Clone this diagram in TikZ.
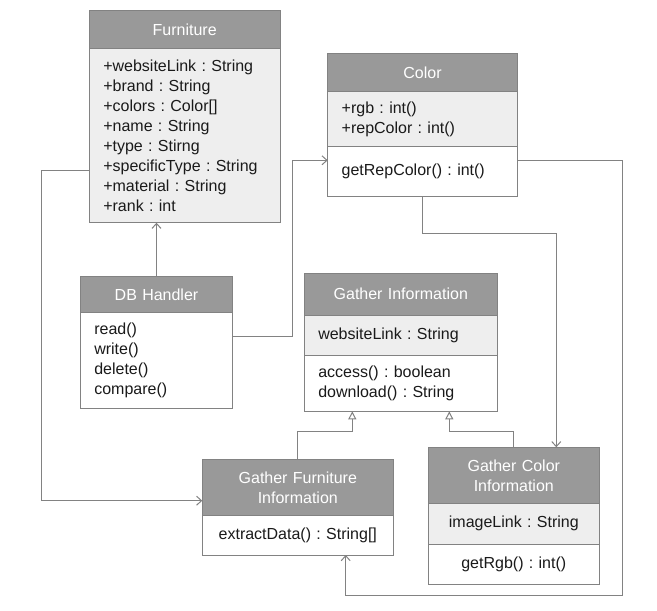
\documentclass[tikz,border=0pt]{standalone}
\usepackage{fontspec}
\setmainfont{Liberation Sans}
\usetikzlibrary{positioning,arrows.meta}
\frenchspacing

\definecolor{headgray}{HTML}{999999}
\definecolor{attrgray}{HTML}{EEEEEE}
\definecolor{linegray}{HTML}{828282}
\definecolor{textdark}{HTML}{1A1A1A}

\tikzset{
  classhead/.style={draw=linegray, fill=headgray, text=white, anchor=north west,
    outer sep=0pt, inner xsep=14pt, inner ysep=2pt, align=center,
    font=\fontsize{16}{20}\selectfont},
  classattr/.style={draw=linegray, fill=attrgray, text=textdark, outer sep=0pt,
    inner xsep=14pt, inner ysep=2pt, align=left, font=\fontsize{16}{20}\selectfont},
  classop/.style={classattr, fill=white},
  assoc/.style={draw=linegray, line width=1pt, -{Straight Barb[length=5pt,width=9pt]}},
  gen/.style={draw=linegray, line width=1pt, -{Triangle[open,fill=white,length=8pt,width=8pt]}},
}

\begin{document}
\begin{tikzpicture}[x=1pt, y=-1pt, line width=1pt]
  \useasboundingbox (0,0) rectangle (657,611);

  % Furniture
  \node[classhead, text width=162.7pt, minimum height=38pt] (furn) at (89.3,10.3) {Furniture};
  \node[classattr, text width=162.7pt, minimum height=174.4pt, below=0pt of furn] (furn-attr)
    {+websiteLink : String\\+brand : String\\+colors : Color[]\\+name : String\\+type : Stirng\\+specificType : String\\+material : String\\+rank : int};

  % Color
  \node[classhead, text width=161.6pt, minimum height=38.4pt] (col) at (327.7,53.3) {Color};
  \node[classattr, text width=161.6pt, minimum height=55pt, below=0pt of col] (col-attr)
    {+rgb : int()\\+repColor : int()};
  \node[classop, text width=161.6pt, minimum height=49.3pt, below=0pt of col-attr] (col-ops)
    {getRepColor() : int()};

  % DB Handler
  \node[classhead, text width=124.4pt, minimum height=36.4pt] (dbh) at (80.3,276.3) {DB Handler};
  \node[classop, text width=124.4pt, minimum height=95.6pt, below=0pt of dbh] (dbh-ops)
    {read()\\write()\\delete()\\compare()};

  % Gather Information
  \node[classhead, text width=165pt, minimum height=41.7pt] (gi) at (304.3,273.3) {Gather Information};
  \node[classattr, text width=165pt, minimum height=40.7pt, below=0pt of gi] (gi-attr)
    {websiteLink : String};
  \node[classop, text width=165pt, minimum height=55.6pt, below=0pt of gi-attr] (gi-ops)
    {access() : boolean\\download() : String};

  % Gather Furniture Information
  \node[classhead, text width=163pt, minimum height=56.4pt] (gf) at (202.3,459.3) {Gather Furniture\\Information};
  \node[classop, text width=163pt, minimum height=39.3pt, align=center, below=0pt of gf] (gf-ops)
    {extractData() : String[]};

  % Gather Color Information
  \node[classhead, text width=143pt, minimum height=56pt] (gc) at (428.3,447.3) {Gather Color\\Information};
  \node[classattr, text width=143pt, minimum height=41pt, align=center, below=0pt of gc] (gc-attr)
    {imageLink : String};
  \node[classop, text width=143pt, minimum height=39.7pt, align=center, below=0pt of gc-attr] (gc-ops)
    {getRgb() : int()};

  % connectors
  \draw[assoc] (dbh.north) -- (dbh.north |- furn-attr.south);
  \draw[assoc] ([yshift=-23.6pt]dbh-ops.north east) -- ++(59.6,0) |- ([yshift=-13.6pt]col-ops.north west);
  \draw[assoc] ([yshift=-34.5pt]furn-attr.west) -- ++(-48,0) |- ([yshift=-13.2pt]gf.west);
  \draw[assoc] ([yshift=-13.6pt]col-ops.north east) -| ([xshift=23pt,yshift=-11pt]gc-ops.south east)
    -| ([xshift=47.9pt]gf-ops.south);
  \draw[assoc] (col-ops.south) -- ++(0,37.3) -| ([xshift=42.5pt]gc.north);
  \draw[gen] (gf.north) -- ++(0,-27.6) -| ([xshift=-48.5pt]gi-ops.south);
  \draw[gen] (gc.north) -- ++(0,-15.6) -| ([xshift=48.5pt]gi-ops.south);
\end{tikzpicture}
\end{document}
